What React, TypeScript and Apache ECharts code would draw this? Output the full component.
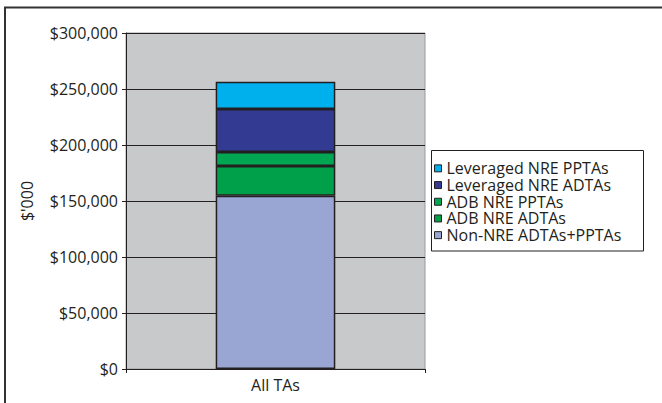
import React, { useEffect, useRef } from "react";
import * as echarts from "echarts";

const categories = ["All TAs"];
const seriesNames = [
  "Non-NRE ADTAs+PPTAs",
  "ADB NRE ADTAs",
  "ADB NRE PPTAs",
  "Leveraged NRE ADTAs",
  "Leveraged NRE PPTAs",
];
const nonNre = [154700];
const adbAdtas = [26500];
const adbPptas = [12500];
const levAdtas = [38400];
const levPptas = [24400];
const seriesValues = [nonNre, adbAdtas, adbPptas, levAdtas, levPptas];
const seriesColors = ["#99A6D3", "#00A04A", "#00A651", "#333A92", "#00B0EC"];
const legendOrder = [
  "Leveraged NRE PPTAs",
  "Leveraged NRE ADTAs",
  "ADB NRE PPTAs",
  "ADB NRE ADTAs",
  "Non-NRE ADTAs+PPTAs",
];
const yMin = 0;
const yMax = 300000;
const yInterval = 50000;

const FONT = "'Open Sans', sans-serif";

export default function App() {
  const ref = useRef<HTMLDivElement>(null);
  useEffect(() => {
    if (!ref.current) return;
    const chart = echarts.init(ref.current, null, { renderer: "svg" });
    const legendText = {
      fontFamily: FONT,
      fontSize: 16,
      color: "#231F20",
      lineHeight: 16.7,
    };
    chart.setOption({
      animation: false,
      backgroundColor: "#ffffff",
      textStyle: { fontFamily: FONT },
      grid: {
        left: 126,
        top: 33,
        width: 299,
        height: 336,
        show: true,
        backgroundColor: "#C8C9CB",
        borderColor: "#9a9a9a",
        borderWidth: 1,
      },
      legend: {
        orient: "vertical",
        left: 434,
        top: 160,
        data: legendOrder.map((name) => ({ name, textStyle: legendText })),
        itemWidth: 7,
        itemHeight: 7,
        itemGap: 0,
        icon: "rect",
        padding: 0,
        itemStyle: { borderColor: "#231F20", borderWidth: 1 },
        textStyle: legendText,
      },
      xAxis: {
        type: "category",
        data: categories,
        axisLine: { lineStyle: { color: "#231F20", width: 1 } },
        axisTick: { show: true, length: 4, inside: false, lineStyle: { color: "#231F20" } },
        axisLabel: { fontFamily: FONT, fontSize: 16, color: "#231F20", margin: 8 },
      },
      yAxis: {
        type: "value",
        min: yMin,
        max: yMax,
        interval: yInterval,
        name: "$'000",
        nameLocation: "middle",
        nameGap: 91,
        nameTextStyle: { fontFamily: FONT, fontSize: 16, color: "#231F20" },
        axisLine: { show: true, lineStyle: { color: "#231F20", width: 1 } },
        axisTick: { show: true, length: 4, inside: false, lineStyle: { color: "#231F20" } },
        splitLine: { show: true, lineStyle: { color: "#231F20", width: 1 } },
        axisLabel: {
          fontFamily: FONT,
          fontSize: 16,
          color: "#231F20",
          margin: 8,
          formatter: (v: number) => "$" + v.toLocaleString("en-US"),
        },
      },
      graphic: [
        {
          type: "rect",
          shape: { x: 5, y: 7.5, width: 900, height: 600 },
          style: { fill: "none", stroke: "#333333", lineWidth: 2 },
          z: 100,
        },
        {
          type: "rect",
          shape: { x: 431.5, y: 150.5, width: 212, height: 100.5 },
          style: { fill: "#ffffff", stroke: "#231F20", lineWidth: 1 },
          z: -1,
        },
      ],
      series: seriesNames.map((name, i) => ({
        name,
        type: "bar",
        stack: "total",
        barWidth: "40%",
        data: seriesValues[i],
        itemStyle: { color: seriesColors[i], borderColor: "#231F20", borderWidth: 1.5 },
      })),
    });
    return () => chart.dispose();
  }, []);
  return (
    <div
      ref={ref}
      style={{ position: "fixed", left: 0, top: 0, width: 662, height: 403 }}
    />
  );
}
